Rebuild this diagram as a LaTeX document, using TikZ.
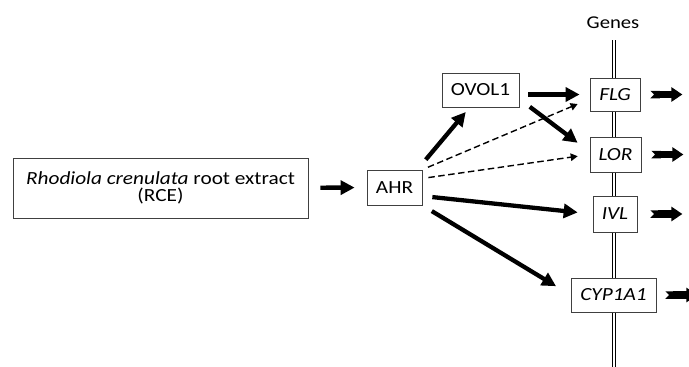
\documentclass[tikz,border=0pt]{standalone}
\usepackage{fontspec}
\setmainfont[FakeStretch=1.15]{Carlito}
\usetikzlibrary{arrows.meta,calc}

\begin{document}
\begin{tikzpicture}[x=1pt,y=-1pt,
  box/.style={draw=black!75,line width=0.8pt,fill=white,inner sep=0pt,font=\fontsize{18.5}{17.5}\selectfont},
  bigarrow/.style={line width=4.3pt,-{Triangle[length=14pt,width=14pt]}},
  dasharrow/.style={line width=1.4pt,dash pattern=on 6.5pt off 3.5pt,-{Triangle[length=7pt,width=7.5pt]}},
  outarrow/.style={line width=7.5pt,{Triangle Cap[reversed]}-{Triangle[length=11pt,width=14pt]}}]
  \useasboundingbox (0,0) rectangle (689,367);
  \clip (0,0) rectangle (689,367);

  % gene strand
  \draw[line width=0.7pt,double,double distance=2.2pt] (614,40) -- (614,370);
  \node (genes) at (613,23) {\fontsize{18}{20}\selectfont Genes};

  \node[box,minimum width=295pt,minimum height=60pt,align=center] (rce) at (160.5,188)
    {\textit{Rhodiola crenulata} root extract\\(RCE)};
  \node[box,minimum width=55pt,minimum height=35pt] (ahr) at (394.5,187.5) {AHR};
  \node[box,minimum width=77pt,minimum height=34pt] (ovol) at (480.5,90) {OVOL1};

  \node[box,minimum width=50pt,minimum height=33pt] (flg) at (615,94.5) {\textit{FLG}};
  \node[box,minimum width=51pt,minimum height=35pt] (lor) at (615.5,154.5) {\textit{LOR}};
  \node[box,minimum width=44pt,minimum height=36pt] (ivl) at (615,214) {\textit{IVL}};
  \node[box,minimum width=85pt,minimum height=34pt] (cyp) at (613.5,295) {\textit{CYP1A1}};

  \draw[bigarrow,shorten <=12pt,shorten >=12pt] (rce) -- (ahr);
  \draw[bigarrow,shorten <=13pt,shorten >=6pt] (ahr.38) -- (ovol.238);
  \draw[bigarrow,shorten <=9pt,shorten >=10pt] (ovol.east |- flg.west) -- (flg.west);
  \draw[bigarrow,shorten <=13pt,shorten >=15pt] (ovol.-13) -- (lor.174);
  \draw[dasharrow,shorten <=6pt,shorten >=13pt] (ahr.north east) -- (flg.190);
  \draw[dasharrow,shorten <=6pt,shorten >=12pt] (ahr.18) -- (lor.west);
  \draw[bigarrow,shorten <=10pt,shorten >=15pt] (ahr.-17) -- (ivl.west);
  \draw[bigarrow,shorten <=11pt,shorten >=17pt] (ahr.south east) -- (cyp.west);

  % expression arrows
  \foreach \g/\d in {flg/10,lor/10,ivl/13,cyp/9}
    \draw[outarrow] (\g.east) ++(\d,0) -- ++(32,0);
\end{tikzpicture}
\end{document}
